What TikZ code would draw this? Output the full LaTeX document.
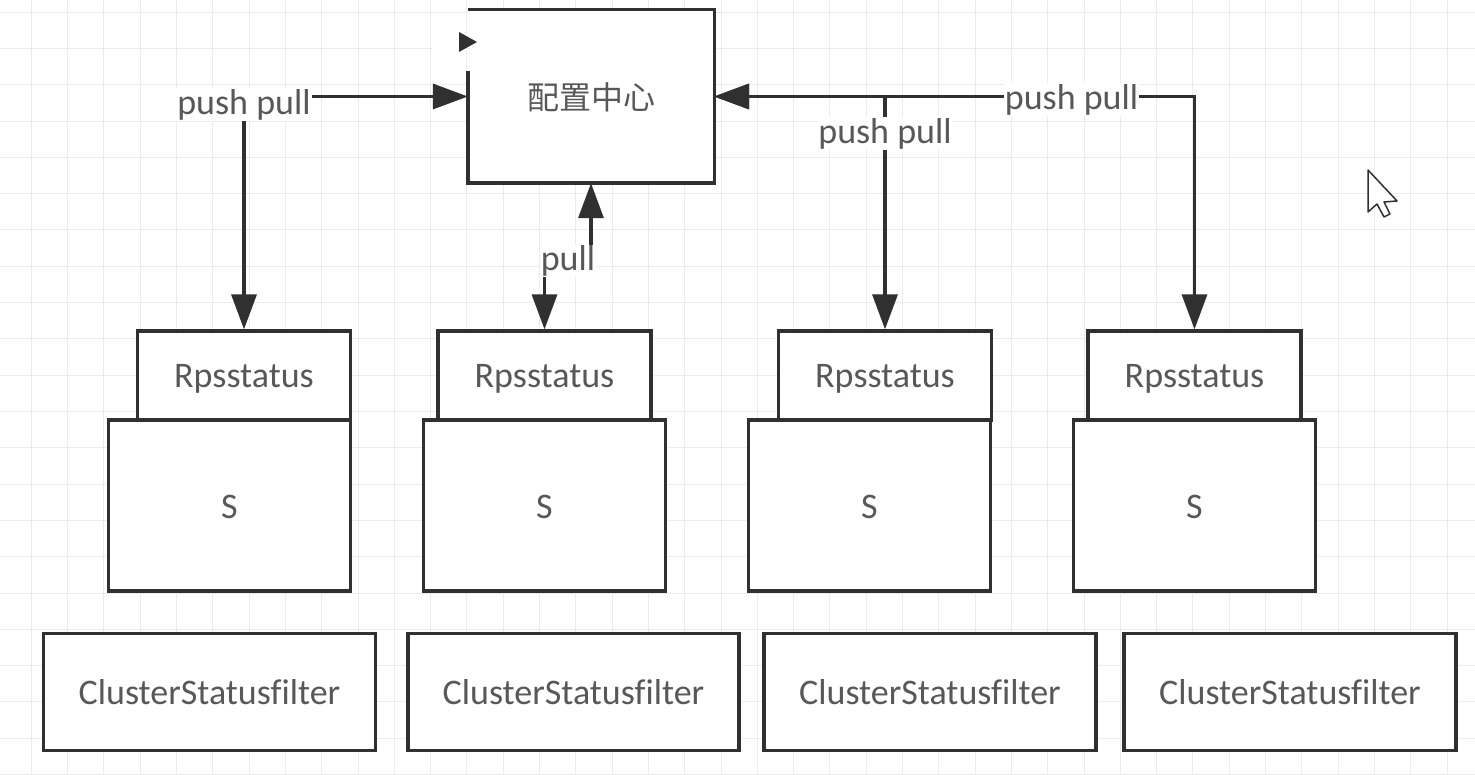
\documentclass[tikz,border=0pt]{standalone}
\usepackage{fontspec}
\setmainfont[Ligatures=NoCommon]{Carlito}
\newfontfamily\cjkfont{Noto Sans CJK SC}
\usetikzlibrary{arrows.meta,calc}
\definecolor{linec}{HTML}{303030}
\definecolor{txtc}{HTML}{585858}
\definecolor{gridc}{HTML}{ECECEC}
\newcommand{\labfont}{\fontsize{36}{40}\selectfont}
\begin{document}
\begin{tikzpicture}[x=1pt,y=-1pt,
  box/.style={draw=linec, line width=3.3pt, fill=white, rectangle, inner sep=0pt, text=txtc, font=\labfont, text depth=0pt},
  conn/.style={draw=linec, line width=3.3pt, {Triangle[length=35pt,width=25pt]}-{Triangle[length=35pt,width=25pt]}},
  lbl/.style={fill=white, inner sep=1pt, text=txtc, font=\labfont},
  gridline/.style={draw=gridc, line width=1pt},
  edge/.style={draw=linec, line width=3.3pt}]
% background and bounding box
\fill[white] (0,0) rectangle (1475,775);
\useasboundingbox (0,0) rectangle (1475,775);
% grid
\foreach \i in {0,...,40} \draw[gridline] ({31.3+36.3*\i},0) -- ({31.3+36.3*\i},775);
\foreach \j in {0,...,21} \draw[gridline] (0,{12.2+36.3*\j}) -- (1475,{12.2+36.3*\j});
% white patch near top-left of the config box
\fill[white, rounded corners=8pt] (432,14) rectangle (466,72);
% config centre
\node[box, draw=none, minimum width=243pt, minimum height=170pt] (cfg) at (591,96.5) {\cjkfont\fontsize{32}{36}\selectfont 配置中心};
\draw[edge] ($(cfg.north west)+(0,61)$) -- (cfg.south west) -- (cfg.south east) -- (cfg.north east) -- (cfg.north west);
\fill[linec] (459,32) -- (477,42) -- (459,52) -- cycle;
% Rpsstatus boxes
\node[box, minimum width=213pt, minimum height=89pt] (r1) at (244,375.5) {Rpsstatus};
\node[box, minimum width=213pt, minimum height=89pt] (r2) at (544.5,375.5) {Rpsstatus};
\node[box, minimum width=213pt, minimum height=89pt] (r3) at (885,375.5) {Rpsstatus};
\node[box, minimum width=213pt, minimum height=89pt] (r4) at (1194.5,375.5) {Rpsstatus};
% S boxes
\node[box, minimum width=242pt, minimum height=171pt] (s1) at (229.5,505.5) {\raisebox{-2pt}{S}};
\node[box, minimum width=242pt, minimum height=171pt] (s2) at (544.5,505.5) {\raisebox{-2pt}{S}};
\node[box, minimum width=242pt, minimum height=171pt] (s3) at (869.5,505.5) {\raisebox{-2pt}{S}};
\node[box, minimum width=242pt, minimum height=171pt] (s4) at (1194.5,505.5) {\raisebox{-2pt}{S}};
% ClusterStatusfilter boxes
\node[box, minimum width=332pt, minimum height=117pt] (c1) at (209.5,692) {ClusterStatusfilter};
\node[box, minimum width=331pt, minimum height=117pt] (c2) at (573.5,692) {ClusterStatusfilter};
\node[box, minimum width=332pt, minimum height=117pt] (c3) at (930,692) {ClusterStatusfilter};
\node[box, minimum width=332pt, minimum height=117pt] (c4) at (1290,692) {ClusterStatusfilter};
% connectors
\draw[conn] (r1.north) |- (cfg.west) node[lbl, pos=0.5, yshift=-8pt] {push pull};
\coordinate (pj) at (567,259);
\draw[conn] (cfg.south) |- (pj) -| (r2.north);
\node[lbl] (pl) at (568,261) {pull};
\draw[conn] (r3.north) |- (cfg.east) node[lbl, pos=0.42] {push pull};
\draw[conn] (r4.north) |- (cfg.east) node[lbl, pos=0.628, yshift=-3pt] {push pull};
% mouse pointer
\draw[linec, line width=1.5pt, fill=white, line join=round] (1368,170) -- (1368,212) -- (1377,204) -- (1384,217) -- (1390,214) -- (1384,202) -- (1397,201) -- cycle;
\end{tikzpicture}
\end{document}
